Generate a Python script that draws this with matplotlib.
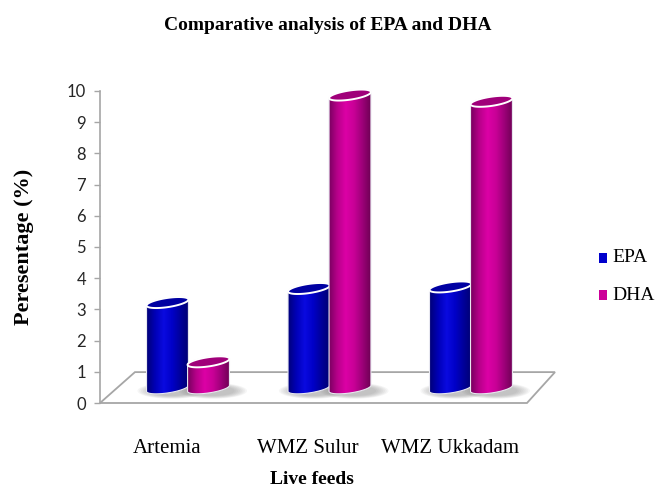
import numpy as np
import matplotlib
matplotlib.use("Agg")
import matplotlib.pyplot as plt
from matplotlib.patches import Polygon, Rectangle
from matplotlib.colors import LinearSegmentedColormap

# Data
categories = ["Artemia", "WMZ Sulur", "WMZ Ukkadam"]
epa = [2.75, 3.2, 3.25]
dha = [0.85, 9.4, 9.2]
series_names = ["EPA", "DHA"]
yticks = list(range(0, 11))

W, H = 656, 488
fig = plt.figure(figsize=(W / 100, H / 100), dpi=100)
fig.patch.set_facecolor("white")

# axes frame in pixel terms (left, right, bottom, top measured from top edge)
px_left, px_right, px_y0, px_y10 = 100, 555, 403, 91
ax = fig.add_axes([px_left / W, (H - px_y0) / H,
                   (px_right - px_left) / W, (px_y0 - px_y10) / H])
ax.set_facecolor("none")

xmin, xmax = -0.622, 2.594
ymin, ymax = 0, 10
ax.set_xlim(xmin, xmax)
ax.set_ylim(ymin, ymax)

gray = "#a6a6a6"

# floor of the 3-D plot area
depth_x, depth_y = 0.247, 0.99
floor = Polygon([(xmin, 0), (2.396, 0), (2.396 + 0.198, depth_y),
                 (xmin + depth_x, depth_y)],
                closed=True, facecolor="white", edgecolor=gray, lw=1.3,
                clip_on=False, zorder=1)
ax.add_patch(floor)

base = 0.47         # floor depth at which the cylinders stand
half_w = 0.148      # cylinder radius (x units)
eb = 0.148          # ellipse vertical semi-axis (y units)
es = 0.096          # ellipse tilt (y rise at right end)
offsets = [-0.145, 0.145]

cmaps = [
    LinearSegmentedColormap.from_list(
        "epa", ["#00007a", "#0000b8", "#0a0ae0", "#0000c8", "#00009a", "#000070"]),
    LinearSegmentedColormap.from_list(
        "dha", ["#7a0060", "#b8008a", "#dc00a6", "#c80096", "#9c0078", "#6e0054"]),
]
top_colors = ["#0000a2", "#a0007a"]


def arc(cx, cy, t0, t1, n=80):
    t = np.linspace(t0, t1, n)
    return np.column_stack([cx + half_w * np.cos(t),
                            cy + eb * np.sin(t) + es * np.cos(t)])


def shadow(cx):
    # soft grey shadow cast on the floor
    for k in range(8):
        sc = 1.0 + 0.08 * k
        t = np.linspace(0, 2 * np.pi, 80)
        pts = np.column_stack([cx + 0.03 + half_w * 1.05 * sc * np.cos(t),
                               base - 0.08 + eb * 1.1 * sc * np.sin(t)])
        ax.add_patch(Polygon(pts, closed=True, facecolor="#808080",
                             edgecolor="none", alpha=0.07, zorder=2,
                             clip_on=False))


z = 3
for i in range(len(categories)):
    for j, vals in enumerate([epa, dha]):
        cx = i + offsets[j]
        top = base + vals[i]
        shadow(cx)
        body_pts = np.vstack([arc(cx, base, np.pi, 2 * np.pi),
                              arc(cx, top, 0, np.pi)])
        body = Polygon(body_pts, closed=True, transform=ax.transData,
                       facecolor="none", edgecolor="#e8e8f0", lw=0.8,
                       zorder=z + 1, clip_on=False)
        ax.add_patch(body)
        grad = np.linspace(0, 1, 256).reshape(1, -1)
        im = ax.imshow(grad, cmap=cmaps[j], aspect="auto",
                       extent=[cx - half_w, cx + half_w, base - 0.3, top + 0.3],
                       zorder=z, interpolation="bilinear")
        im.set_clip_path(body)
        lid = Polygon(arc(cx, top, 0, 2 * np.pi, 120), closed=True,
                      facecolor=top_colors[j], edgecolor="white", lw=1.4,
                      zorder=z + 2, clip_on=False)
        ax.add_patch(lid)
        z += 3

ax.set_xlim(xmin, xmax)
ax.set_ylim(ymin, ymax)

# axes styling
for side in ["top", "right", "bottom"]:
    ax.spines[side].set_visible(False)
ax.spines["left"].set_color(gray)
ax.spines["left"].set_linewidth(1.2)
ax.set_yticks(yticks)
ax.set_yticklabels([str(t) for t in yticks], fontfamily="Lato", fontsize=12,
                   color="#262626")
ax.tick_params(axis="y", length=4, width=1, color=gray, pad=6)

ax.set_xticks([i - 0.15 for i in range(len(categories))])
ax.set_xticklabels(categories, fontfamily="Liberation Serif", fontsize=15)
ax.tick_params(axis="x", length=0, pad=26)

fig.text(328 / W, 1 - 26 / H, "Comparative analysis of EPA and DHA",
         ha="center", va="center", fontfamily="Liberation Serif",
         fontweight="bold", fontsize=14)
fig.text(24 / W, 1 - 247 / H, "Peresentage (%)", rotation=90,
         ha="center", va="center", fontfamily="Liberation Serif",
         fontweight="bold", fontsize=16)
fig.text(312 / W, 1 - 480 / H, "Live feeds", ha="center", va="center",
         fontfamily="Liberation Serif", fontweight="bold", fontsize=14)

# legend
legend_colors = ["#0000cc", "#cc0099"]
legend_y = [258, 295]
for name, col, yy in zip(series_names, legend_colors, legend_y):
    fig.patches.append(Rectangle(((599) / W, 1 - (yy + 5) / H), 8 / W, 10 / H,
                                 transform=fig.transFigure, facecolor=col,
                                 edgecolor="none"))
    fig.text(612 / W, 1 - yy / H, name, ha="left", va="center",
             fontfamily="Liberation Serif", fontsize=14)

fig.savefig("out.png", dpi=100, facecolor="white")
